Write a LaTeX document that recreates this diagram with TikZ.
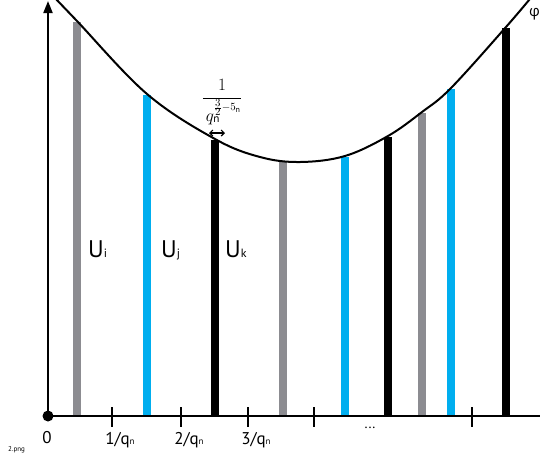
\documentclass[tikz,border=0pt]{standalone}
\usepackage{fontspec}
\setmainfont{PT Sans}
\newfontfamily\greekfont{Open Sans}
\usetikzlibrary{arrows.meta}
\definecolor{bargray}{RGB}{140,140,145}
\definecolor{barblue}{RGB}{0,174,239}
\tikzset{
  axis/.style={line width=2pt},
  bar/.style={line width=8pt},
  tick/.style={line width=2pt},
  curve/.style={line width=2pt},
  ulabel/.style={font=\fontsize{24}{24}\selectfont, anchor=base west, inner sep=0pt},
  tlabel/.style={font=\fontsize{17}{17}\selectfont, anchor=base, inner sep=0pt}
}
\newcommand{\usub}[1]{{\fontsize{12}{12}\selectfont #1}}
\newcommand{\tsub}[1]{{\fontsize{9}{9}\selectfont #1}}
\begin{document}
\begin{tikzpicture}[x=1pt,y=-1pt]
\useasboundingbox (0,0) rectangle (540,456);
% coordinates
\coordinate (O) at (48,416);
\coordinate (ytop) at (48,1);
\coordinate (xend) at (540,416);
% bars
\draw[bar,bargray] (77,416) -- (77,22);
\draw[bar,barblue] (147,416) -- (147,95);
\draw[bar,black] (215,416) -- (215,140);
\draw[bar,bargray] (283,416) -- (283,162);
\draw[bar,barblue] (345,416) -- (345,157);
\draw[bar,black] (388,416) -- (388,137);
\draw[bar,bargray] (422,416) -- (422,113);
\draw[bar,barblue] (451,416) -- (451,89);
\draw[bar,black] (506,416) -- (506,28);
% axes
\draw[axis,-{Triangle[length=12pt,width=9pt]}] (O) -- (ytop);
\draw[axis] (O) -- (xend);
\fill (O) circle (5.5);
% ticks
\foreach \x/\n in {112/t1,181/t2,248/t3,314/t4,472/t5}{
  \coordinate (\n a) at (\x,407);
  \coordinate (\n b) at (\x,427);
  \draw[tick] (\n a) -- (\n b);
}
% curve
\draw[curve] plot[smooth,tension=0.6] coordinates {(55,-2) (77,21) (147,94) (215,139) (260,157) (300,162) (345,156) (388,136) (422,112) (451,88) (506,27) (534,-6)};
% labels
\node[tlabel] (l0) at (47,443) {0};
\node[tlabel] (l1) at (120,444) {1/q\tsub{n}};
\node[tlabel] (l2) at (189,444) {2/q\tsub{n}};
\node[tlabel] (l3) at (256,444) {3/q\tsub{n}};
\node[font=\fontsize{14}{14}\selectfont, inner sep=0pt] (dots) at (370,428) {...};
\node[font=\fontsize{7}{7}\selectfont\rmfamily, anchor=base west, inner sep=0pt] (png) at (8,451) {2.png};
\node[ulabel] (ui) at (88,257) {U\usub{i}};
\node[ulabel] (uj) at (161,257) {U\usub{j}};
\node[ulabel] (uk) at (225,257) {U\usub{k}};
\node[font=\fontsize{15}{15}\selectfont\greekfont, anchor=base east, inner sep=0pt] (phi) at (540,16) {φ};
\node[inner sep=0pt] (frac) at (222,102) {\fontsize{16}{18}\selectfont$\displaystyle\frac{1}{\,q_{\mathrm{n}}^{\raisebox{2.5pt}{$\scriptstyle\frac{\scriptstyle 3}{\scriptstyle 2}-5_{\mathrm{n}}$}}}$};
\coordinate (arrL) at (209,133);
\coordinate (arrR) at (225,133);
\draw[line width=1.2pt,{Straight Barb[length=3pt,width=6pt]}-{Straight Barb[length=3pt,width=6pt]}] (arrL) -- (arrR);
\end{tikzpicture}
\end{document}
